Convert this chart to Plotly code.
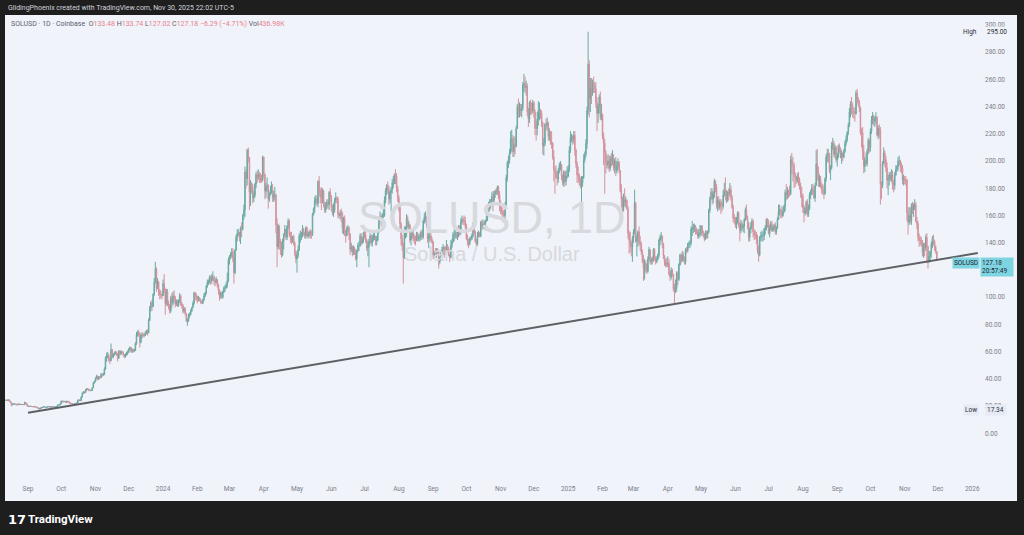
"""SOLUSD daily candles with long-term rising trendline, TradingView style."""

import pandas as pd
import plotly.graph_objects as go

# daily closes / highs / lows, Aug 11 2023 -> Nov 30 2025 (one line per month)
first_open = 24.6

close_2023 = [
    24.3, 24.4, 24.1, 24.6, 23.6, 22.8, 21.0, 21.3, 21.5, 21.6, 21.1, 20.9, 21.6, 21.1, 21.3, 21.1, 21.2, 21.0, 22.6, 21.9, 20.4,
    19.7, 19.8, 19.9, 19.7, 19.6, 19.5, 19.6, 19.2, 19.2, 18.3, 17.9, 18.5, 18.9, 19.3, 19.3, 19.4, 18.9, 19.3, 19.6, 19.6, 19.1, 19.5, 19.5, 19.2, 19.4, 19.4, 19.9, 20.8, 20.8, 21.6,
    23.7, 23.1, 23.4, 23.4, 22.5, 23.6, 23.4, 22.5, 22.0, 21.9, 21.4, 21.3, 21.6, 21.9, 22.3, 24.2, 24.4, 24.0, 26.6, 29.3, 30.4, 29.9, 31.7, 32.6, 32.4, 31.7, 31.4, 31.6, 33.5, 37.2, 38.1,
    40.3, 42.0, 39.8, 41.5, 40.9, 43.4, 43.0, 43.4, 47.2, 55.2, 56.5, 57.0, 53.9, 53.4, 61.5, 56.1, 58.0, 58.7, 59.3, 58.6, 55.3, 60.3, 58.3, 60.0, 59.5, 57.7, 56.4, 57.3, 59.0, 59.5,
    61.8, 63.0, 60.3, 61.3, 60.5, 60.9, 66.0, 72.2, 74.0, 73.7, 67.0, 71.5, 72.4, 72.0, 71.9, 73.9, 75.0, 73.8, 83.1, 91.8, 95.8, 93.3, 102, 111, 121, 107, 111, 104, 102, 102, 101,
]
high_2023 = [
    24.9, 24.7, 24.6, 24.9, 24.8, 23.8, 23.0, 21.9, 21.8, 21.9, 21.8, 21.4, 21.9, 21.8, 21.5, 21.5, 21.4, 21.4, 23.3, 22.8, 22.1,
    20.5, 20.1, 20.1, 20.0, 19.9, 19.8, 19.9, 19.7, 19.4, 19.3, 18.4, 18.8, 19.1, 19.5, 19.6, 19.6, 19.5, 19.5, 19.9, 19.9, 19.7, 19.7, 19.7, 19.6, 19.5, 19.6, 20.1, 21.1, 21.2, 21.9,
    24.1, 24.0, 23.9, 23.8, 23.6, 23.9, 23.8, 23.5, 22.7, 22.3, 22.1, 21.7, 21.9, 22.2, 22.6, 24.8, 25.0, 24.7, 27.0, 30.1, 31.0, 30.8, 32.5, 33.3, 33.1, 32.9, 32.0, 32.0, 33.9, 37.8, 38.8,
    41.3, 43.0, 42.3, 41.9, 42.0, 44.2, 44.0, 44.5, 48.5, 56.6, 59.3, 59.8, 58.5, 56.0, 66.0, 62.0, 58.9, 60.0, 60.5, 60.2, 59.0, 61.0, 61.2, 61.0, 60.5, 60.0, 58.2, 58.8, 59.9, 61.0,
    62.5, 63.8, 63.5, 62.4, 62.2, 62.0, 67.0, 74.5, 75.6, 76.0, 74.0, 72.8, 74.5, 73.8, 73.5, 75.0, 76.0, 76.4, 84.5, 93.5, 97.0, 98.0, 103, 114, 126, 122, 114, 112, 106, 105, 103,
]
low_2023 = [
    24.0, 24.1, 23.9, 23.9, 23.4, 22.6, 19.8, 20.6, 21.1, 21.2, 20.9, 20.5, 20.8, 20.8, 21.0, 21.0, 20.9, 20.8, 20.8, 21.6, 20.2,
    19.4, 19.6, 19.6, 19.5, 19.3, 19.2, 19.3, 19.0, 19.0, 18.1, 17.34, 17.8, 18.3, 18.7, 19.1, 19.1, 18.7, 18.8, 19.2, 19.3, 18.9, 19.0, 19.3, 19.0, 19.1, 19.2, 19.3, 19.8, 20.5, 20.7,
    21.5, 22.8, 22.9, 23.0, 22.3, 22.4, 23.1, 22.3, 21.7, 21.6, 21.2, 21.0, 21.2, 21.5, 21.8, 22.2, 23.8, 23.5, 23.8, 26.4, 29.0, 29.1, 29.8, 31.4, 31.6, 31.0, 30.9, 31.0, 31.5, 33.3, 36.5,
    37.5, 39.6, 38.8, 39.4, 40.2, 40.7, 41.5, 42.1, 42.7, 46.8, 52.5, 55.0, 52.5, 50.8, 53.0, 55.0, 55.2, 56.9, 57.8, 57.0, 52.8, 54.6, 57.0, 57.6, 58.6, 56.5, 55.2, 55.5, 56.8, 57.6,
    58.9, 61.0, 59.3, 59.0, 59.2, 59.7, 60.5, 65.0, 71.0, 71.0, 63.0, 66.0, 69.6, 70.5, 70.5, 71.5, 72.8, 71.8, 73.5, 82.5, 89.5, 90.0, 92.5, 101, 110, 104, 106, 101, 98.5, 99.0, 98.5,
]

close_2024 = [
    110, 104, 95.2, 104, 95.5, 92.8, 90.0, 99.3, 95.8, 101, 99.2, 95.0, 97.0, 94.0, 97.6, 101, 95.0, 93.6, 89.7, 91.5, 87.9, 82.4, 82.6, 87.0, 87.3, 90.0, 92.4, 95.5, 103, 101, 99.7,
    98.8, 99.5, 98.2, 96.0, 95.8, 98.0, 101, 103, 108, 111, 111, 115, 112, 114, 115, 112, 111, 113, 109, 105, 101, 103, 99.9, 104, 107, 107, 109, 112, 127,
    130, 131, 133, 129, 118, 135, 144, 147, 147, 144, 151, 150, 160, 164, 192, 187, 208, 202, 177, 184, 181, 173, 175, 183, 190, 188, 190, 189, 188, 186, 203,
    190, 178, 181, 182, 172, 175, 179, 179, 173, 175, 175, 153, 137, 152, 140, 138, 131, 141, 146, 150, 144, 152, 156, 146, 145, 142, 144, 140, 132, 128,
    131, 135, 145, 145, 146, 150, 147, 145, 151, 145, 146, 148, 146, 146, 161, 165, 171, 172, 169, 185, 178, 174, 173, 178, 169, 164, 167, 170, 168, 177, 174,
    166, 162, 164, 171, 173, 172, 161, 160, 162, 161, 151, 158, 149, 145, 150, 151, 146, 135, 137, 133, 136, 134, 128, 134, 138, 138, 145, 140, 142, 147,
    146, 142, 136, 137, 141, 145, 140, 143, 145, 145, 141, 142, 148, 158, 159, 156, 160, 160, 171, 178, 182, 180, 172, 177, 179, 184, 184, 190, 189, 180, 173,
    166, 154, 143, 138, 129, 147, 147, 158, 152, 153, 142, 145, 147, 143, 143, 142, 147, 143, 144, 144, 148, 144, 156, 159, 159, 153, 143, 145, 145, 142, 141,
    131, 133, 131, 135, 133, 126, 128, 133, 135, 137, 135, 134, 138, 136, 131, 129, 138, 141, 146, 146, 147, 144, 146, 151, 147, 155, 157, 156, 156, 152,
    143, 141, 139, 143, 143, 145, 150, 148, 141, 139, 145, 147, 145, 155, 152, 154, 151, 156, 157, 165, 166, 167, 170, 174, 171, 176, 178, 177, 181, 175, 167,
    166, 163, 161, 160, 168, 188, 199, 201, 206, 216, 216, 207, 212, 211, 224, 240, 237, 239, 237, 239, 256, 257, 254, 255, 236, 231, 243, 238, 237, 243,
    236, 224, 224, 231, 237, 238, 235, 228, 211, 213, 227, 226, 228, 218, 219, 214, 213, 203, 194, 192, 188, 187, 193, 197, 197, 189, 184, 192, 185, 189, 189,
]
high_2024 = [
    113, 117, 107, 106, 106, 97.5, 95.0, 101, 103, 104, 105, 101, 98.5, 98.0, 98.5, 103, 102, 96.5, 95.0, 92.8, 92.5, 88.5, 84.5, 88.0, 88.8, 91.2, 93.0, 97.0, 104, 104, 103,
    101, 101, 100, 98.8, 97.5, 99.0, 103, 104, 109, 113, 113, 116, 116, 117, 119, 116, 114, 115, 113, 110, 106, 104, 104, 105, 108, 109, 111, 118, 129,
    131, 133, 136, 136, 134, 135, 146, 150, 150, 148, 152, 155, 161, 168, 196, 194, 209, 210, 203, 186, 184, 183, 178, 184, 192, 193, 194, 192, 191, 190, 204,
    203, 191, 184, 188, 183, 177, 182, 185, 183, 178, 181, 176, 158, 154, 153, 143, 141, 143, 147, 153, 150, 153, 158, 157, 148, 148, 145, 146, 141, 134,
    134, 138, 147, 149, 148, 153, 151, 148, 152, 152, 148, 149, 150, 149, 162, 166, 174, 175, 174, 186, 189, 180, 181, 180, 179, 170, 170, 172, 172, 178, 180,
    175, 168, 169, 173, 177, 174, 174, 162, 164, 165, 163, 159, 160, 149, 152, 153, 152, 147, 140, 138, 138, 137, 135, 135, 140, 141, 147, 147, 144, 148,
    150, 148, 143, 141, 143, 147, 146, 146, 147, 149, 145, 145, 149, 159, 163, 161, 162, 165, 174, 180, 183, 185, 182, 178, 181, 187, 189, 191, 194, 191, 182,
    175, 167, 155, 146, 140, 152, 152, 161, 160, 156, 154, 148, 149, 150, 146, 145, 148, 148, 146, 147, 149, 150, 157, 162, 163, 160, 155, 147, 150, 147, 144,
    141, 134, 136, 136, 136, 135, 130, 134, 137, 139, 137, 137, 142, 139, 137, 132, 142, 143, 148, 150, 149, 148, 148, 153, 153, 158, 160, 159, 160, 159,
    154, 146, 143, 144, 145, 147, 155, 152, 149, 143, 148, 149, 148, 156, 157, 157, 156, 157, 160, 167, 170, 172, 172, 177, 178, 178, 179, 180, 182, 182, 178,
    171, 168, 164, 164, 170, 190, 200, 204, 209, 222, 223, 219, 218, 218, 226, 242, 246, 243, 242, 242, 258, 264, 262, 259, 257, 239, 244, 245, 243, 245,
    244, 238, 229, 236, 244, 243, 238, 237, 229, 217, 228, 231, 232, 229, 224, 222, 222, 214, 208, 196, 197, 193, 195, 199, 200, 198, 190, 193, 193, 193, 196,
]
low_2024 = [
    101, 103, 87.0, 93.8, 93.5, 91.0, 88.0, 88.5, 92.0, 94.0, 97.0, 92.5, 93.5, 92.8, 93.0, 95.8, 93.5, 91.5, 88.0, 88.5, 86.5, 81.8, 79.0, 82.0, 84.8, 86.5, 89.0, 91.8, 94.5, 97.8, 97.0,
    95.5, 97.0, 96.8, 95.2, 94.8, 95.0, 97.5, 100, 102, 107, 109, 110, 109, 110, 112, 109, 108, 110, 107, 102, 97.5, 99.0, 98.8, 99.0, 103, 104, 106, 107, 111,
    124, 128, 129, 126, 110, 117, 134, 141, 145, 141, 139, 144, 149, 157, 159, 180, 182, 199, 164, 167, 176, 169, 170, 173, 180, 184, 186, 184, 184, 184, 185,
    188, 172, 173, 177, 165, 170, 175, 176, 170, 170, 171, 147, 122, 135, 135, 131, 129, 130, 135, 144, 142, 142, 150, 144, 140, 139, 140, 138, 130, 125,
    118, 129, 134, 140, 142, 144, 145, 143, 143, 144, 143, 144, 143, 143, 145, 160, 162, 168, 167, 166, 174, 169, 164, 169, 166, 162, 162, 165, 165, 164, 170,
    163, 160, 159, 162, 169, 169, 158, 158, 157, 155, 147, 146, 145, 140, 145, 148, 142, 131, 133, 130, 131, 131, 127, 122, 133, 134, 137, 138, 139, 140,
    143, 140, 134, 130, 122, 139, 138, 137, 141, 142, 138, 138, 141, 147, 155, 152, 154, 158, 159, 169, 175, 176, 168, 169, 163, 176, 180, 183, 183, 177, 170,
    163, 150, 138, 134, 110, 128, 143, 144, 151, 150, 140, 138, 143, 141, 139, 138, 141, 141, 141, 141, 142, 142, 143, 154, 155, 151, 140, 136, 141, 140, 139,
    128, 129, 129, 129, 131, 121, 124, 127, 130, 131, 129, 131, 132, 133, 130, 126, 129, 136, 140, 141, 143, 143, 142, 144, 145, 146, 154, 153, 153, 150,
    142, 138, 136, 138, 141, 142, 144, 146, 140, 137, 138, 144, 144, 144, 149, 150, 150, 149, 155, 156, 162, 163, 165, 167, 163, 169, 173, 175, 175, 172, 163,
    161, 160, 155, 156, 157, 167, 185, 195, 198, 205, 207, 203, 203, 205, 210, 224, 232, 232, 233, 232, 237, 251, 250, 248, 233, 225, 228, 234, 234, 235,
    232, 219, 215, 219, 226, 230, 231, 225, 205, 204, 211, 222, 223, 215, 215, 212, 209, 201, 185, 176, 187, 182, 184, 191, 193, 186, 182, 181, 182, 182, 187,
]

close_2025 = [
    194, 208, 217, 218, 216, 219, 208, 198, 190, 189, 185, 182, 184, 188, 201, 205, 213, 237, 271, 246, 253, 250, 257, 255, 253, 243, 235, 240, 247, 232, 234,
    218, 213, 206, 199, 197, 200, 195, 202, 200, 202, 195, 200, 193, 196, 199, 193, 178, 172, 165, 172, 170, 171, 165, 147, 142, 138, 137, 143,
    148, 169, 141, 143, 148, 140, 139, 133, 126, 121, 125, 124, 119, 128, 135, 126, 128, 127, 135, 128, 126, 128, 131, 142, 144, 145, 139, 130, 126, 125, 124,
    125, 117, 115, 120, 117, 106, 105, 107, 118, 113, 124, 131, 127, 131, 128, 126, 135, 134, 139, 139, 140, 150, 151, 151, 152, 149, 148, 145, 147, 147,
    152, 147, 147, 143, 147, 146, 148, 164, 172, 177, 172, 176, 185, 181, 168, 171, 166, 170, 167, 167, 175, 178, 177, 172, 177, 176, 179, 173, 166, 158, 158,
    153, 156, 162, 153, 149, 154, 151, 152, 157, 164, 158, 155, 144, 150, 152, 156, 148, 146, 146, 142, 134, 131, 144, 145, 145, 145, 150, 151, 157, 155,
    147, 150, 154, 149, 151, 153, 148, 151, 157, 163, 164, 163, 160, 163, 167, 177, 175, 178, 176, 176, 201, 197, 197, 190, 188, 186, 188, 186, 182, 176, 174,
    166, 162, 163, 170, 161, 165, 175, 176, 180, 178, 173, 182, 198, 192, 185, 187, 182, 179, 178, 176, 187, 203, 206, 204, 193, 195, 211, 213, 205, 210, 201,
    204, 211, 209, 203, 206, 203, 207, 213, 216, 221, 226, 236, 242, 237, 236, 236, 235, 250, 245, 243, 239, 221, 221, 207, 196, 201, 198, 207, 215, 210,
    222, 230, 233, 229, 231, 232, 219, 224, 223, 183, 182, 198, 206, 201, 195, 186, 187, 190, 187, 190, 183, 182, 190, 194, 196, 200, 200, 196, 195, 186, 187,
    186, 186, 162, 155, 160, 156, 167, 164, 167, 168, 156, 154, 144, 142, 141, 139, 133, 139, 136, 144, 137, 127, 130, 133, 139, 143, 141, 137, 133.48, 127.18,
]
high_2025 = [
    197, 211, 222, 220, 219, 222, 222, 209, 200, 196, 191, 188, 189, 189, 205, 207, 216, 240, 295, 274, 261, 261, 260, 262, 258, 258, 247, 242, 249, 251, 242,
    235, 221, 216, 208, 204, 205, 204, 204, 206, 208, 205, 202, 203, 200, 202, 200, 193, 183, 174, 176, 180, 174, 172, 167, 149, 148, 141, 145,
    150, 179, 170, 146, 149, 152, 145, 141, 135, 131, 128, 127, 125, 130, 137, 135, 129, 130, 136, 136, 130, 130, 132, 143, 146, 148, 145, 140, 131, 128, 129,
    130, 128, 119, 122, 121, 117, 110, 113, 119, 119, 125, 132, 132, 134, 133, 130, 136, 137, 140, 141, 142, 152, 156, 154, 154, 153, 151, 150, 150, 153,
    153, 153, 149, 147, 149, 149, 149, 165, 174, 180, 180, 178, 187, 186, 183, 174, 174, 172, 172, 170, 179, 184, 188, 179, 178, 180, 184, 182, 175, 168, 161,
    159, 159, 163, 163, 155, 157, 156, 154, 158, 166, 168, 160, 155, 151, 155, 158, 157, 150, 149, 148, 146, 138, 145, 148, 149, 148, 151, 153, 158, 158,
    157, 153, 156, 156, 152, 154, 155, 152, 159, 168, 168, 165, 167, 166, 168, 179, 183, 181, 179, 182, 204, 206, 203, 199, 192, 189, 191, 192, 188, 184, 181,
    176, 168, 166, 171, 172, 168, 177, 179, 183, 183, 182, 184, 208, 209, 196, 190, 189, 184, 183, 182, 188, 205, 209, 209, 206, 197, 214, 217, 215, 212, 211,
    206, 212, 213, 210, 208, 206, 209, 215, 219, 222, 228, 239, 244, 247, 243, 240, 239, 252, 253, 247, 245, 240, 224, 225, 212, 203, 206, 209, 217, 216,
    224, 233, 236, 234, 233, 236, 233, 226, 227, 225, 185, 200, 210, 208, 204, 199, 190, 192, 192, 194, 193, 186, 192, 197, 197, 203, 204, 201, 199, 197, 190,
    189, 189, 187, 166, 166, 166, 169, 170, 169, 172, 170, 159, 156, 147, 145, 144, 142, 140, 140, 146, 147, 138, 134, 134, 141, 145, 146, 142, 138, 133.74,
]
low_2025 = [
    188, 192, 206, 214, 212, 213, 204, 195, 184, 184, 182, 180, 170, 181, 187, 199, 203, 209, 234, 232, 236, 242, 248, 250, 250, 239, 222, 228, 235, 230, 230,
    216, 197, 176, 191, 195, 194, 192, 193, 196, 197, 193, 191, 189, 191, 194, 191, 177, 166, 162, 163, 167, 166, 164, 143, 132, 133, 130, 126,
    140, 146, 140, 130, 137, 138, 134, 131, 125, 112, 113, 118, 117, 118, 128, 124, 124, 124, 126, 127, 124, 125, 127, 129, 138, 141, 136, 128, 123, 122, 122,
    122, 116, 112, 113, 115, 104, 95.5, 103, 104, 109, 112, 123, 125, 126, 126, 124, 124, 132, 133, 136, 136, 138, 145, 147, 148, 146, 146, 143, 143, 144,
    145, 145, 144, 141, 142, 143, 143, 147, 162, 172, 168, 169, 173, 177, 165, 163, 164, 164, 161, 163, 165, 174, 171, 169, 170, 171, 174, 171, 165, 155, 154,
    151, 150, 154, 151, 141, 147, 149, 148, 147, 156, 157, 150, 141, 141, 147, 150, 144, 142, 143, 139, 132, 126, 130, 141, 141, 141, 142, 146, 149, 151,
    146, 144, 149, 148, 148, 149, 146, 146, 150, 157, 160, 158, 158, 159, 162, 163, 171, 172, 173, 174, 175, 190, 185, 180, 181, 183, 184, 182, 179, 173, 166,
    162, 155, 160, 161, 159, 159, 164, 172, 175, 175, 172, 170, 182, 186, 181, 181, 180, 176, 175, 172, 175, 185, 199, 199, 191, 186, 194, 208, 203, 202, 199,
    196, 202, 206, 202, 198, 200, 202, 206, 211, 214, 219, 225, 232, 234, 232, 231, 229, 234, 242, 240, 236, 219, 210, 201, 191, 192, 197, 196, 205, 206,
    207, 220, 227, 226, 225, 227, 218, 216, 217, 168, 172, 180, 198, 196, 192, 180, 175, 182, 185, 185, 179, 177, 179, 189, 192, 193, 197, 192, 191, 183, 182,
    183, 182, 156, 146, 153, 154, 153, 161, 159, 164, 155, 150, 141, 137, 138, 137, 130, 129, 130, 134, 125, 121, 125, 127, 129, 136, 138, 134, 132, 127.02,
]

# hand-drawn support line (two anchor points)
trend_x = ["2023-09-01", "2026-01-06"]
trend_y = [15.1, 132.4]

month_labels = [
    "Sep", "Oct", "Nov", "Dec",
    "2024", "Feb", "Mar", "Apr", "May", "Jun", "Jul", "Aug", "Sep", "Oct", "Nov", "Dec",
    "2025", "Feb", "Mar", "Apr", "May", "Jun", "Jul", "Aug", "Sep", "Oct", "Nov", "Dec",
    "2026",
]
price_ticks = list(range(0, 301, 20))
hidden_ticks = [120]  # sits under the last-price tag

close = close_2023 + close_2024 + close_2025
high = high_2023 + high_2024 + high_2025
low = low_2023 + low_2024 + low_2025
n = min(len(close), len(high), len(low))
close, high, low = close[:n], high[:n], low[:n]
opens = [first_open] + close[:-1]
dates = pd.date_range("2023-08-11", periods=n, freq="D")
month_ticks = pd.date_range("2023-09-01", "2026-01-01", freq="MS")

BG = "#f0f3fa"
FRAME = "#1e1e1e"
AXIS_TXT = "#7b7e89"
UP = "#6aaaa3"
DOWN = "#d4929c"
TAG = "#7fd4e1"

# pixel helpers: plot area spans x 5..1017, y 15..483 of the 1024x535 page
def px(x):
    return (x - 5) / 1012


def py(y):
    return (483 - y) / 468


fig = go.Figure()
fig.add_trace(
    go.Candlestick(
        x=dates, open=opens, high=high, low=low, close=close,
        increasing=dict(line=dict(color=UP, width=1), fillcolor=UP),
        decreasing=dict(line=dict(color=DOWN, width=1), fillcolor=DOWN),
        hoverinfo="skip", showlegend=False,
    )
)
fig.add_trace(
    go.Scatter(
        x=trend_x, y=trend_y, mode="lines",
        line=dict(color="#5e6066", width=2), hoverinfo="skip", showlegend=False,
    )
)

fig.add_shape(
    type="rect", xref="paper", yref="paper", x0=0, x1=1, y0=py(501), y1=1,
    fillcolor=BG, line_width=0, layer="below",
)

red = "#ec8088"
grey = "#5d606b"
legend = (
    f"<span style='color:{grey}'>SOLUSD · 1D · Coinbase</span>  "
    f"<span style='color:{grey}'>O</span><span style='color:{red}'>133.48</span> "
    f"<span style='color:{grey}'>H</span><span style='color:{red}'>133.74</span> "
    f"<span style='color:{grey}'>L</span><span style='color:{red}'>127.02</span> "
    f"<span style='color:{grey}'>C</span><span style='color:{red}'>127.18</span> "
    f"<span style='color:{red}'>−6.29 (−4.71%)</span> "
    f"<span style='color:{grey}'>Vol</span><span style='color:{red}'>436.98K</span>"
)

annotations = [
    # credit line in the dark frame
    dict(x=px(6), y=py(7.5), text="GlidingPhoenix created with TradingView.com, Nov 30, 2025 22:02 UTC-5",
         font=dict(size=7, color="#d1d4dc", family="Roboto"), xanchor="left"),
    # symbol legend
    dict(x=px(9), y=py(24), text=legend, font=dict(size=7, family="Roboto"), xanchor="left"),
    # watermark
    dict(x=px(492), y=py(217), text="SOLUSD, 1D",
         font=dict(size=45, color="#d7d9de", family="Liberation Sans"), xanchor="center"),
    dict(x=px(492), y=py(254), text="Solana / U.S. Dollar",
         font=dict(size=20, color="#d7d9de", family="Liberation Sans"), xanchor="center"),
    # high / low markers on the price scale
    dict(x=px(979), y=295, yref="y", text="High", font=dict(size=6.5, color="#2a2e39", family="Roboto"),
         xanchor="right"),
    dict(x=px(985), y=295, yref="y", text="295.00", font=dict(size=6.5, color="#2a2e39", family="Roboto"),
         xanchor="left", bgcolor=BG),
    dict(x=px(979), y=17.34, yref="y", text="Low", font=dict(size=6.5, color="#2a2e39", family="Roboto"),
         xanchor="right", bgcolor="#e6eaf2"),
    dict(x=px(985), y=17.34, yref="y", text="17.34 ", font=dict(size=6.5, color="#2a2e39", family="Roboto"),
         xanchor="left", bgcolor="#e6eaf2"),
    # last price tag
    dict(x=px(980), y=129.6, yref="y", text="SOLUSD", font=dict(size=6.5, color="#1b2330", family="Roboto"),
         xanchor="right", yanchor="top", bgcolor=TAG, borderpad=1),
    dict(x=px(980), y=129.6, yref="y", text="127.18<br>20:57:49",
         font=dict(size=6.5, color="#1b2330", family="Roboto"),
         xanchor="left", yanchor="top", align="left", bgcolor=TAG, borderpad=1, width=30),
    # footer logo
    dict(x=px(6), y=py(519), text="<b>17</b>", font=dict(size=13, color="#ffffff", family="DejaVu Sans"),
         xanchor="left"),
    dict(x=px(26), y=py(519), text="<b>TradingView</b>", font=dict(size=11.5, color="#ffffff", family="Roboto"),
         xanchor="left"),
]
for a in annotations:
    a.setdefault("xref", "paper")
    a.setdefault("yref", "paper")
    a.setdefault("showarrow", False)
    a.setdefault("yanchor", "middle")
fig.update_layout(annotations=annotations)

fig.update_layout(
    width=1024, height=535,
    margin=dict(l=5, r=7, t=15, b=52),
    paper_bgcolor=FRAME, plot_bgcolor=BG,
    showlegend=False,
    xaxis=dict(
        type="date", range=["2023-08-11 05:00", "2026-02-10 10:00"],
        tickvals=month_ticks, ticktext=month_labels,
        showgrid=False, zeroline=False, showline=False, ticks="",
        tickfont=dict(size=6.5, color=AXIS_TXT, family="Roboto"),
        rangeslider=dict(visible=False), fixedrange=True,
    ),
    yaxis=dict(
        range=[-36.5, 307.3], side="right", anchor="free", position=px(984),
        tickvals=price_ticks,
        ticktext=["" if v in hidden_ticks else f"{v:.2f}" for v in price_ticks],
        showgrid=False, zeroline=False, showline=False, ticks="",
        tickfont=dict(size=6.5, color=AXIS_TXT, family="Roboto"),
        fixedrange=True,
    ),
)

fig.write_html(
    "out.html",
    config={"displayModeBar": False},
    post_script="document.body.style.margin='0';document.body.style.overflow='hidden';",
)
